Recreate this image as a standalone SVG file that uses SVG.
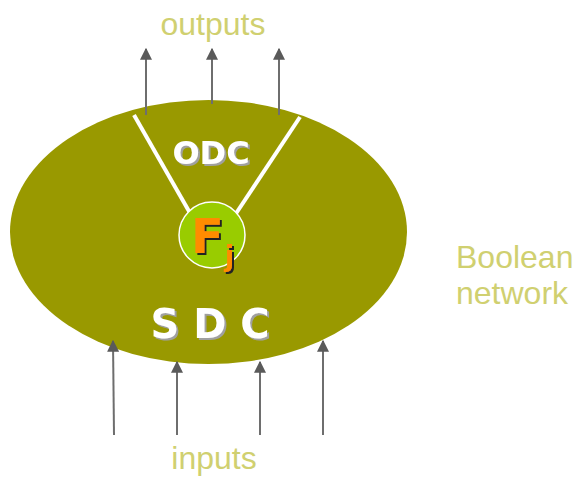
<svg xmlns="http://www.w3.org/2000/svg" width="577" height="477" viewBox="0 0 577 477">
<style>
.lbl{font-family:"Liberation Sans",Arial,sans-serif;font-size:32px;fill:#d0d070}
.wt{font-family:"DejaVu Sans",sans-serif;font-weight:bold;fill:#ffffff;filter:url(#gs)}
.fj{font-family:"DejaVu Sans",sans-serif;font-weight:bold;fill:#ff8c00;filter:url(#ds)}
.arr{stroke:#6e6e6e;stroke-width:2;fill:none;marker-end:url(#ah)}
</style>
<defs>
<marker id="ah" viewBox="0 0 10 10" refX="9" refY="5" markerWidth="6" markerHeight="6" markerUnits="strokeWidth" orient="auto">
<path d="M0,0 L10,5 L0,10 z" fill="#5a5a5a"/>
</marker>
<filter id="gs" x="-10%" y="-20%" width="130%" height="150%">
<feDropShadow dx="2" dy="2" stdDeviation="0.5" flood-color="#a0a0a0" flood-opacity="1"/>
</filter>
<filter id="ds" x="-20%" y="-20%" width="150%" height="150%">
<feDropShadow dx="2" dy="2" stdDeviation="0.3" flood-color="#222222" flood-opacity="1"/>
</filter>
</defs>
<g id="network">
<ellipse cx="208.5" cy="232" rx="198.5" ry="132" fill="#999900"/>
<line x1="134" y1="115" x2="190" y2="213" stroke="#ffffff" stroke-width="4"/>
<line x1="300" y1="117" x2="235" y2="215" stroke="#ffffff" stroke-width="4"/>
<text class="wt" x="211" y="164" font-size="32" text-anchor="middle">ODC</text>
<text class="wt" x="210" y="338" font-size="40" text-anchor="middle">S D C</text>
</g>
<g id="Fj">
<circle cx="212" cy="235" r="33" fill="#99cc00" stroke="#ffffff" stroke-width="1.5"/>
<text class="fj" x="191" y="253" font-size="48">F<tspan dx="1" dy="13" font-size="28">j</tspan></text>
</g>
<g id="connectors">
<line class="arr" x1="146" y1="115" x2="146" y2="49"/>
<line class="arr" x1="212" y1="104" x2="212" y2="49"/>
<line class="arr" x1="279" y1="115" x2="279" y2="49"/>
<line class="arr" x1="114" y1="435" x2="113" y2="341"/>
<line class="arr" x1="177" y1="435" x2="177" y2="362"/>
<line class="arr" x1="260" y1="435" x2="260" y2="362"/>
<line class="arr" x1="323" y1="435" x2="323" y2="341"/>
</g>
<g id="labels">
<text class="lbl" x="213" y="35" text-anchor="middle">outputs</text>
<text class="lbl" x="214" y="469" text-anchor="middle">inputs</text>
<text class="lbl" x="456" y="268">Boolean</text>
<text class="lbl" x="456" y="304">network</text>
</g>
</svg>
